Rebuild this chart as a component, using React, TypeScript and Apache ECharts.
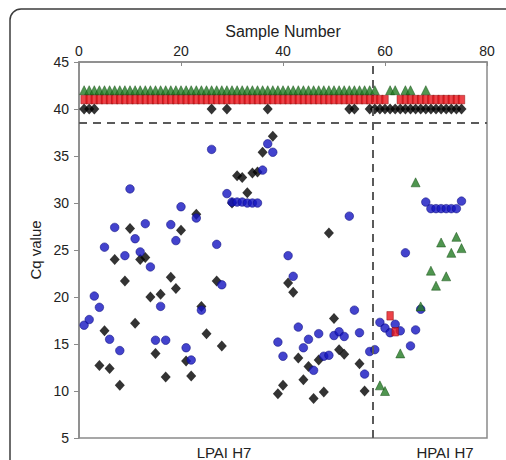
import React, { useEffect, useRef } from "react";
import * as echarts from "echarts";

// Cq values per sample (index 0 = sample 1). 40 / 41 / 42 = not detected rows.
const blueCq: (number | null)[] = [
  17.0, 17.6, 20.1, 18.9, 25.3, 15.5, 27.4, 14.3, 24.4, 31.5,
  26.2, 24.8, 27.8, 23.2, 15.4, 19.0, 15.4, 27.7, 26.0, 29.6,
  14.6, 13.3, 28.4, 18.6, null, 35.7, 25.6, 21.3, 31.0, 30.1,
  30.1, 30.1, 30.0, 30.0, 30.0, 33.5, 36.3, 35.4, 15.2, 13.7,
  24.4, 22.2, 16.8, 14.6, 15.5, 12.2, 16.1, 13.7, 13.8, 15.9,
  16.3, 15.8, 28.6, 18.6, 16.2, 11.8, 14.2, 14.4, 17.3, 16.7,
  16.2, 17.1, 16.4, 24.7, 14.8, 16.5, 18.7, 30.1, 29.4, 29.4,
  29.4, 29.4, 29.4, 29.4, 30.2,
];

const blackCq: number[] = [
  40, 40, 40, 12.7, 16.4, 12.4, 24.0, 10.6, 21.7, 27.3,
  17.2, 24.0, 24.2, 20.0, 14.0, 20.3, 11.5, 22.1, 20.9, 27.1,
  13.2, 11.6, 28.8, 19.0, 16.1, 40, 21.7, 14.8, 40, 30.0,
  32.9, 32.7, 31.1, 33.2, 33.3, 35.4, 40, 37.1, 9.7, 10.6,
  21.5, 20.5, 13.5, 11.2, 12.6, 9.2, 13.3, 9.9, 26.8, 17.7,
  14.4, 13.9, 40, 40, 12.9, 10.0, 40, 40, 40, 40,
  40, 40, 40, 40, 40, 40, 40, 40, 40, 40,
  40, 40, 40, 40, 40,
];

const greenCq: number[] = [
  42, 42, 42, 42, 42, 42, 42, 42, 42, 42,
  42, 42, 42, 42, 42, 42, 42, 42, 42, 42,
  42, 42, 42, 42, 42, 42, 42, 42, 42, 42,
  42, 42, 42, 42, 42, 42, 42, 42, 42, 42,
  42, 42, 42, 42, 42, 42, 42, 42, 42, 42,
  42, 42, 42, 42, 42, 42, 42, 42, 10.6, 10.0,
  42, 42, 14.0, 42, 42, 32.2, 19.0, 42, 22.8, 21.2,
  25.8, 22.2, 24.7, 26.4, 25.2,
];

const redCq: number[] = [
  41, 41, 41, 41, 41, 41, 41, 41, 41, 41,
  41, 41, 41, 41, 41, 41, 41, 41, 41, 41,
  41, 41, 41, 41, 41, 41, 41, 41, 41, 41,
  41, 41, 41, 41, 41, 41, 41, 41, 41, 41,
  41, 41, 41, 41, 41, 41, 41, 41, 41, 41,
  41, 41, 41, 41, 41, 41, 41, 41, 41, 41,
  18.0, 16.3, 41, 41, 41, 41, 41, 41, 41, 41,
  41, 41, 41, 41, 41,
];

const xTicks = [0, 20, 40, 60, 80];
const yTicks = [5, 10, 15, 20, 25, 30, 35, 40, 45];
const cutoffCq = 38.5;
const groupDivider = 57.6;
const groupLabels = ["LPAI H7", "HPAI H7"];

const toPoints = (arr: (number | null)[]) =>
  arr
    .map((v, i) => (v === null ? null : [i + 1, v]))
    .filter((p) => p !== null) as number[][];

const FONT = "Liberation Sans, Arial, sans-serif";

export default function App() {
  const ref = useRef<HTMLDivElement>(null);
  useEffect(() => {
    if (!ref.current) return;
    const chart = echarts.init(ref.current, undefined, { renderer: "svg" });
    const axisColor = "#8a8a8a";
    chart.setOption({
      animation: false,
      textStyle: { fontFamily: FONT },
      grid: {
        left: 79,
        top: 62,
        right: 19,
        bottom: 22,
        show: true,
        borderColor: axisColor,
        borderWidth: 1.5,
      },
      xAxis: {
        type: "value",
        position: "top",
        min: xTicks[0],
        max: xTicks[xTicks.length - 1],
        interval: 20,
        name: "Sample Number",
        nameLocation: "middle",
        nameGap: 21,
        nameTextStyle: { fontSize: 16, color: "#222", fontFamily: FONT },
        axisLine: { show: true, lineStyle: { color: axisColor, width: 1.5 } },
        axisTick: { show: true, inside: true, length: 4, lineStyle: { color: axisColor } },
        axisLabel: { fontSize: 14, color: "#222", margin: 4, fontFamily: FONT },
        splitLine: { show: false },
      },
      yAxis: {
        type: "value",
        min: yTicks[0],
        max: yTicks[yTicks.length - 1],
        interval: 5,
        name: "Cq value",
        nameLocation: "middle",
        nameGap: 34,
        nameTextStyle: { fontSize: 15, color: "#222", fontFamily: FONT },
        axisLine: { show: true, lineStyle: { color: axisColor, width: 1.5 } },
        axisTick: { show: true, inside: false, length: 5, lineStyle: { color: axisColor } },
        axisLabel: { fontSize: 14, color: "#222", margin: 10, fontFamily: FONT },
        splitLine: { show: false },
      },
      series: [
        {
          type: "scatter",
          name: "black",
          symbol: "diamond",
          symbolSize: [10, 11],
          itemStyle: { color: "#000000" },
          data: toPoints(blackCq),
          z: 2,
          markLine: {
            silent: true,
            symbol: "none",
            label: { show: false },
            lineStyle: { color: "#5a5a5a", width: 2, type: [8, 6] },
            data: [{ yAxis: cutoffCq }, { xAxis: groupDivider }],
          },
        },
        {
          type: "scatter",
          name: "blue",
          symbol: "circle",
          symbolSize: 8.5,
          itemStyle: { color: "#1414c0", borderColor: "#0c0c80", borderWidth: 0.7 },
          data: toPoints(blueCq),
          z: 3,
        },
        {
          type: "scatter",
          name: "green",
          symbol: "triangle",
          symbolSize: [9, 9],
          itemStyle: { color: "#237a23", borderColor: "#0f4a0f", borderWidth: 0.6 },
          data: toPoints(greenCq),
          z: 4,
        },
        {
          type: "scatter",
          name: "red",
          symbol: "rect",
          symbolSize: [6.5, 8.5],
          itemStyle: { color: "#e8141b", borderColor: "#8b0a0a", borderWidth: 0.6 },
          data: toPoints(redCq),
          z: 5,
        },
      ],
      graphic: [
        {
          type: "rect",
          shape: { x: 10, y: 9, width: 540, height: 500, r: 11 },
          style: { fill: "none", stroke: "#3c3c3c", lineWidth: 1.5 },
          silent: true,
        },
        {
          type: "text",
          x: 224,
          y: 452,
          style: {
            text: groupLabels[0],
            fontSize: 15,
            fill: "#222",
            fontFamily: FONT,
            align: "center",
            verticalAlign: "middle",
          },
        },
        {
          type: "text",
          x: 445,
          y: 452,
          style: {
            text: groupLabels[1],
            fontSize: 15,
            fill: "#222",
            fontFamily: FONT,
            align: "center",
            verticalAlign: "middle",
          },
        },
      ],
    });
    return () => chart.dispose();
  }, []);
  return (
    <div
      ref={ref}
      style={{ position: "fixed", left: 0, top: 0, width: 506, height: 460, background: "#fff" }}
    />
  );
}
